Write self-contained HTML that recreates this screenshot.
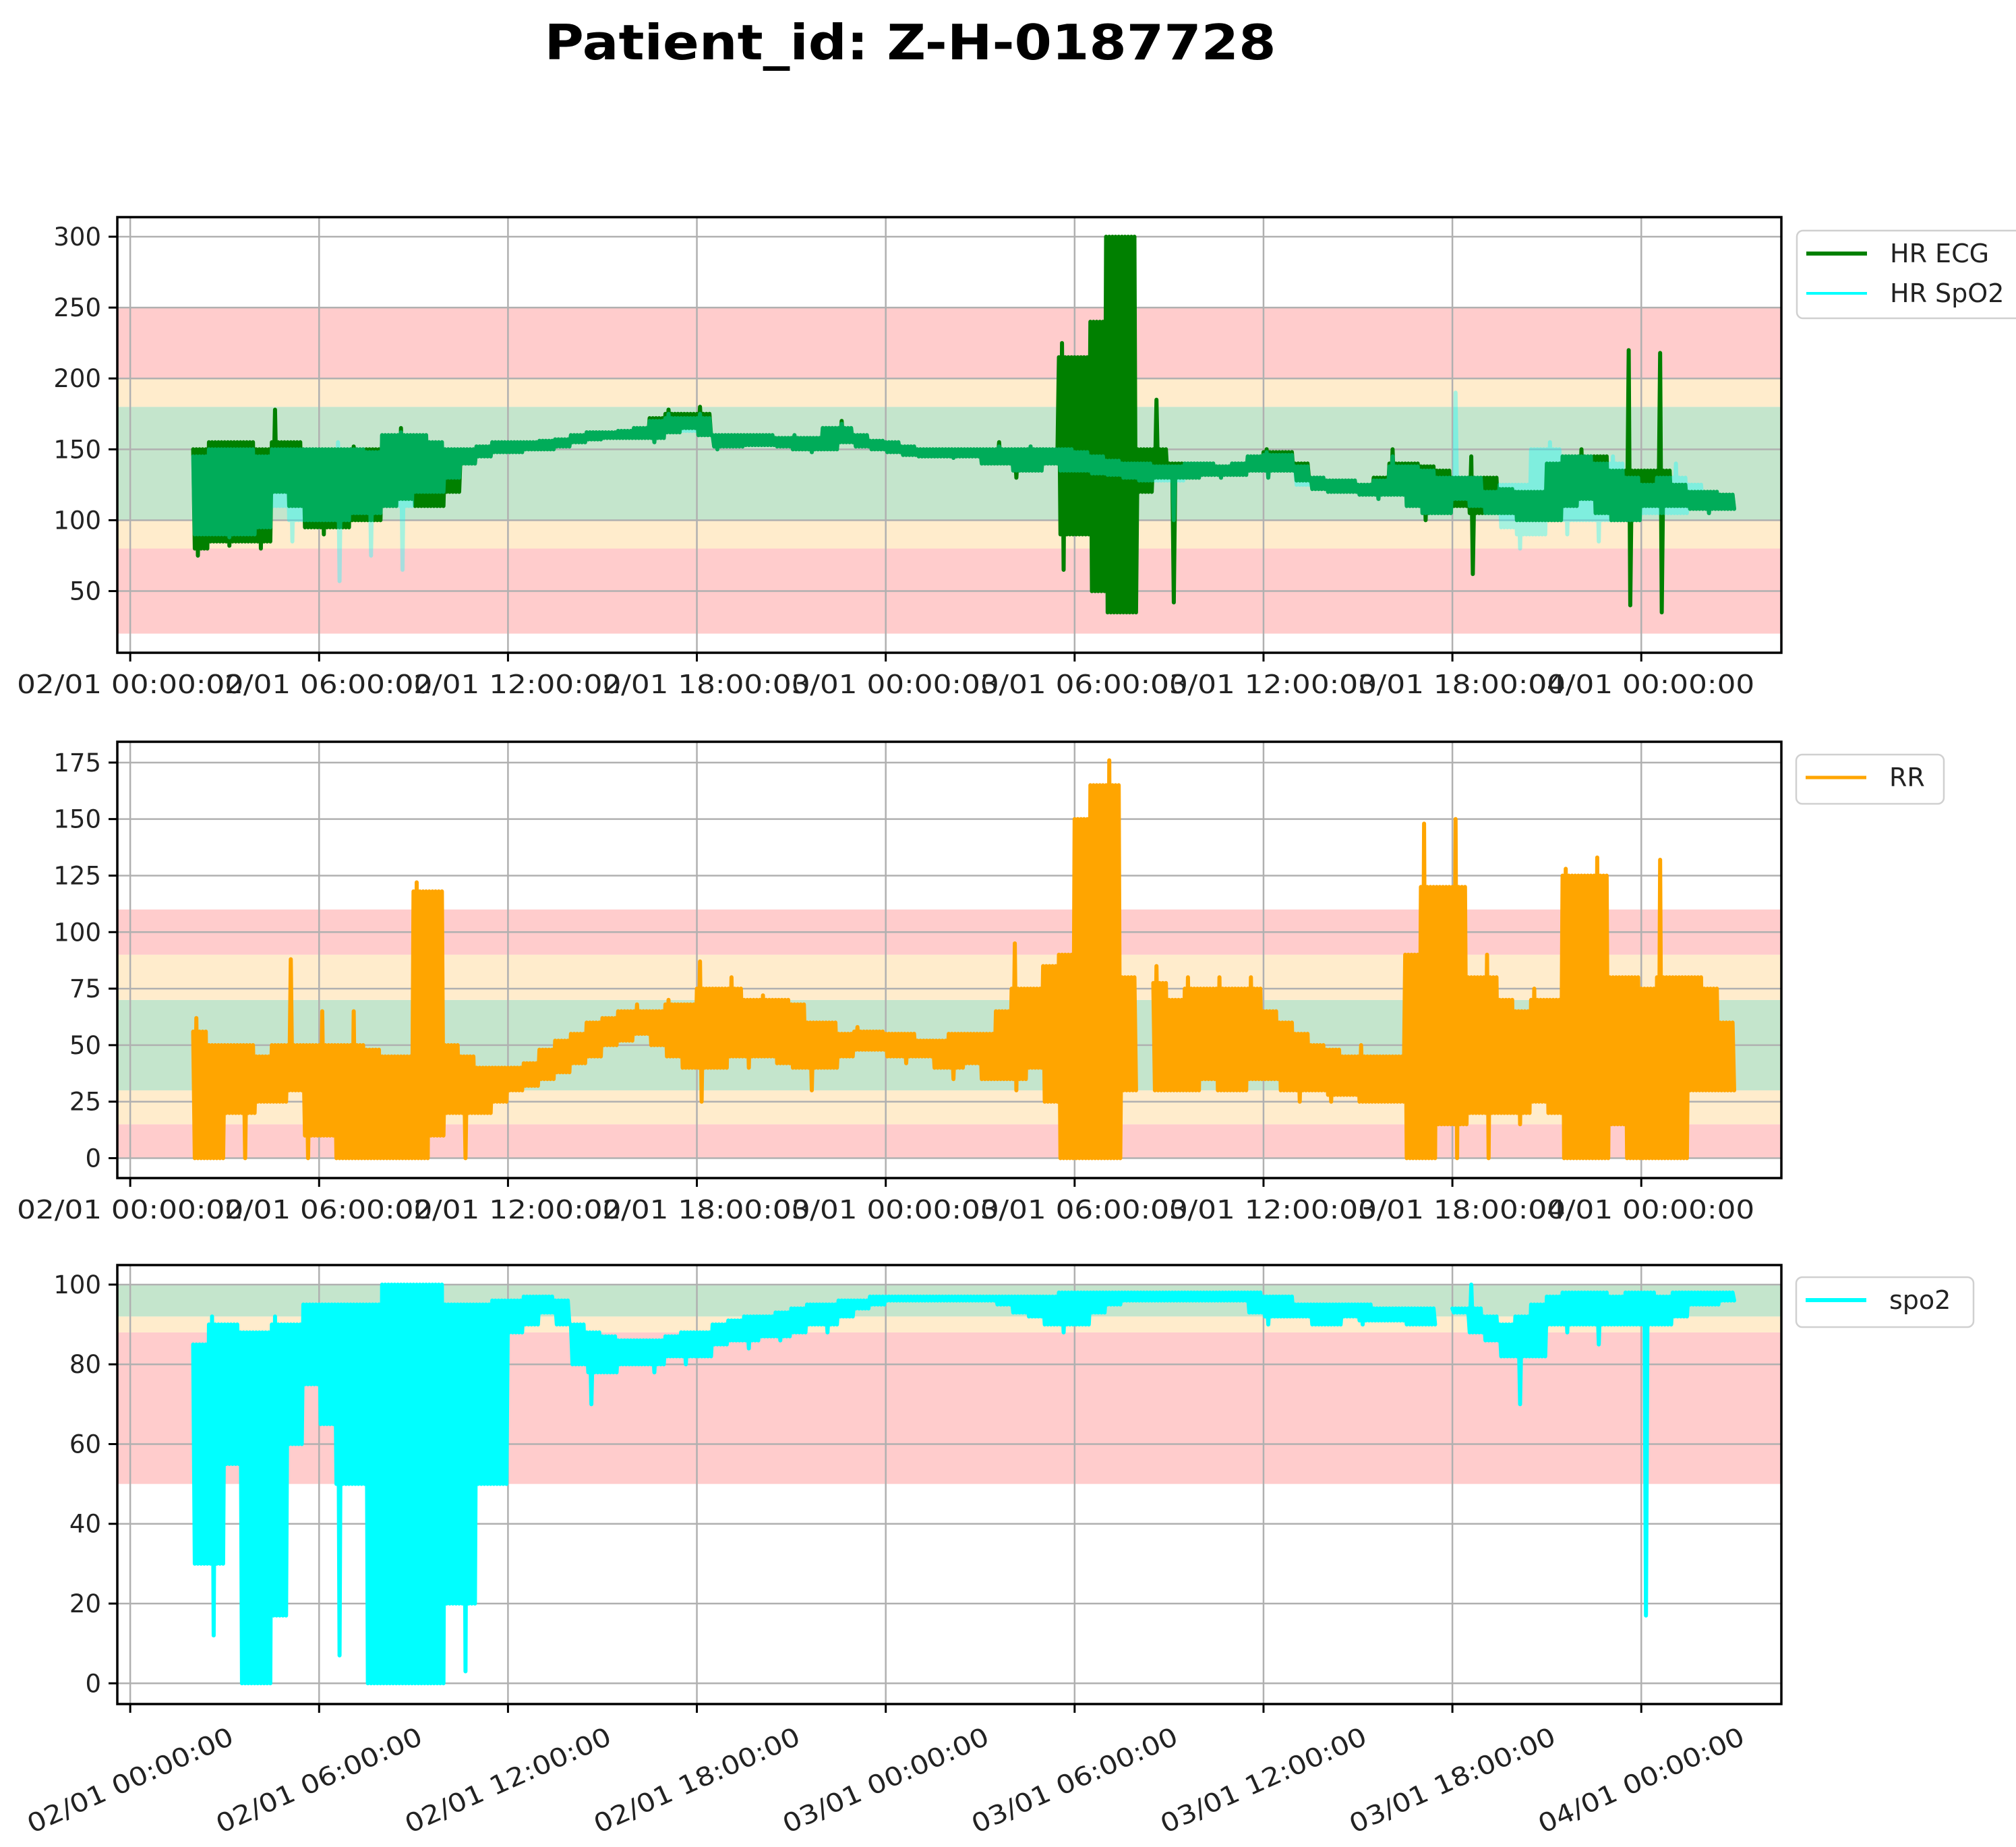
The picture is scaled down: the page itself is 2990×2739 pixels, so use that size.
<!DOCTYPE html>
<html><head><meta charset="utf-8">
<style>
html,body{margin:0;padding:0;background:#fff;}
svg{display:block;font-family:"DejaVu Sans","Liberation Sans",sans-serif;}
</style></head>
<body>
<svg id="fig" width="2990" height="2739" viewBox="0 0 2990 2739" xmlns="http://www.w3.org/2000/svg">
<text x="1350" y="88" text-anchor="middle" font-weight="bold" font-size="72" textLength="1085" lengthAdjust="spacingAndGlyphs">Patient_id: Z-H-0187728</text>
</svg>
<script>
// ---- data (hours since 02/01 00:00) ----
const binHours = [2,2.5,3,3.5,4,4.5,5,5.5,6,6.5,7,7.5,8,8.5,9,9.5,10,10.5,11,11.5,12,12.5,13,13.5,14,14.5,15,15.5,16,16.5,17,17.5,18,18.5,19,19.5,20,20.5,21,21.5,22,22.5,23,23.5,24,24.5,25,25.5,26,26.5,27,27.5,28,28.5,29,29.5,30,30.5,31,31.5,32,32.5,33,33.5,34,34.5,35,35.5,36,36.5,37,37.5,38,38.5,39,39.5,40,40.5,41,41.5,42,42.5,43,43.5,44,44.5,45,45.5,46,46.5,47,47.5,48,48.5,49,49.5,50,50.5];
const xTickHours = [0,6,12,18,24,30,36,42,48];
const xTickLabels = ["02/01 00:00:00","02/01 06:00:00","02/01 12:00:00","02/01 18:00:00","03/01 00:00:00","03/01 06:00:00","03/01 12:00:00","03/01 18:00:00","04/01 00:00:00"];

const hrEcgHigh = [150,155,155,155,150,178,155,150,150,150, 152,150,160,165,160,155,150,150,152,155, 155,155,156,157,160,162,162,163,165,172, 178,175,180,160,160,160,160,158,160,158, 165,170,160,156,155,152,150,150,150,150, 150,155,150,152,150,225,215,240,300,300, 150,185,140,140,140,138,140,145,150,148, 140,130,128,128,125,130,150,140,138,135, 130,145,130,122,120,120,140,145,150,145, 135,220,135,218,125,120,120,118];
const hrEcgLow = [75,85,82,85,80,120,110,95,90,95, 100,100,110,115,110,110,120,140,145,148, 148,150,150,152,155,157,158,158,158,155, 162,165,160,150,152,153,153,152,150,148, 150,155,152,150,148,146,145,145,144,145, 140,140,130,135,140,65,90,50,35,35, 120,130,42,130,132,130,132,135,130,135, 128,122,120,120,118,115,118,110,100,105, 110,62,105,105,100,100,100,110,115,105, 100,40,110,35,110,108,105,108];
const hrSpo2High = [145,150,150,150,145,150,150,150,150,155, 150,148,160,162,160,155,150,150,152,155, 155,155,156,157,160,162,162,163,165,170, 175,172,175,160,160,160,160,158,160,158, 165,168,160,156,155,152,150,150,150,150, 150,152,150,152,150,150,148,145,142,140, 140,138,138,140,140,138,140,145,148,146, 138,130,128,128,125,128,145,138,135,130, 190,130,120,125,125,150,155,145,145,140, 145,130,125,130,140,125,120,118];
const hrSpo2Low = [90,90,88,90,95,110,85,100,100,57, 105,75,110,65,120,120,130,140,145,148, 148,150,150,152,155,157,158,158,158,155, 162,163,160,150,152,153,153,152,150,148, 150,155,152,150,148,146,145,145,144,145, 140,140,135,135,140,135,135,133,132,130, 128,128,100,130,132,130,132,135,130,135, 125,122,120,120,118,115,118,110,105,105, 115,110,105,95,80,90,100,90,100,85, 100,100,105,105,105,108,105,108];
const rrHigh = [62,50,50,50,45,50,88,50,65,50, 65,48,45,45,122,118,50,45,40,40, 40,42,48,52,55,60,62,65,68,65, 70,68,87,75,80,70,72,70,68,60, 60,55,58,56,55,55,52,52,55,55, 55,65,95,75,85,90,150,165,176,80, null,85,70,80,75,80,75,80,65,60, 55,50,48,45,50,45,45,90,148,120, 150,80,90,70,65,75,70,128,125,133, 80,80,75,132,80,80,75,60];
const rrLow = [0,0,20,0,25,25,30,0,10,0, 0,0,0,0,0,10,20,0,20,25, 30,32,35,38,42,45,50,52,55,50, 45,40,25,40,45,40,45,42,40,30, 40,45,48,48,45,42,45,40,35,42, 35,35,30,40,25,0,0,0,0,30, null,30,30,30,35,30,30,35,35,30, 25,30,25,28,25,25,25,0,0,15, 0,20,0,20,15,25,20,0,0,0, 15,0,0,0,0,30,30,30];
const spo2High = [85,92,90,88,88,92,90,95,95,95, 95,95,100,100,100,100,95,95,95,96, 96,97,97,96,90,88,87,86,86,86, 87,88,88,90,91,92,92,93,94,95, 95,96,96,97,97,97,97,97,97,97, 97,97,97,97,97,98,98,98,98,98, 98,98,98,98,98,98,98,98,97,97, 95,95,95,95,95,94,94,94,94,null, 94,100,92,90,92,95,97,98,98,98, 97,98,98,97,98,98,98,98];
const spo2Low = [30,12,55,0,0,17,60,75,65,7, 50,0,0,0,0,0,20,3,50,50, 88,90,93,90,80,70,78,80,80,78, 82,80,82,85,86,84,87,86,88,90, 88,92,94,95,96,96,96,96,96,96, 96,95,93,92,90,88,90,93,95,96, 96,96,96,96,96,96,96,93,90,92, 92,90,90,92,90,91,91,90,90,null, 93,88,86,82,70,82,90,88,90,85, 90,90,17,90,92,95,95,96];

const hrTicks = [50,100,150,200,250,300];
const rrTicks = [0,25,50,75,100,125,150,175];
const spo2Ticks = [0,20,40,60,80,100];
const hrBands = [[20,80,"#ffcccc"],[80,100,"#ffeccc"],[100,180,"#c4e5cc"],[180,200,"#ffeccc"],[200,250,"#ffcccc"]];
const rrBands = [[0,15,"#ffcccc"],[15,30,"#ffeccc"],[30,70,"#c4e5cc"],[70,90,"#ffeccc"],[90,110,"#ffcccc"]];
const spo2Bands = [[50,88,"#ffcccc"],[88,92,"#ffeccc"],[92,100,"#c4e5cc"]];

// ---- layout ----
const NS = "http://www.w3.org/2000/svg";
const svg = document.getElementById('fig');
const L = 174, R = 2642;
const xAxisMin = -0.41, xAxisMax = 52.45;
function xs(h){ return L + (h - xAxisMin) / (xAxisMax - xAxisMin) * (R - L); }

function mk(tag, attrs, parent){
  const e = document.createElementNS(NS, tag);
  for (const k in attrs) e.setAttribute(k, attrs[k]);
  (parent || svg).appendChild(e);
  return e;
}
function med3(arr, i){
  const v = [arr[i - 1], arr[i], arr[i + 1]].filter(x => x !== null && x !== undefined);
  v.sort((a, b) => a - b);
  return v.length === 3 ? v[1] : (v.length === 2 ? (v[0] + v[1]) / 2 : v[0]);
}

function panel(name, top, bottom, ymin, ymax, ticks, bands, series, legend, rotated){
  const g = mk('g', {});
  
  
  const ys = v => bottom - (v - ymin) / (ymax - ymin) * (bottom - top);
  const clipId = 'clip-' + name;
  const cp = mk('clipPath', {id: clipId}, g);
  mk('rect', {x: L, y: top, width: R - L, height: bottom - top}, cp);
  bands.forEach(b => {
    const r = mk('rect', {x: L, y: ys(b[1]), width: R - L, height: ys(b[0]) - ys(b[1]), fill: b[2]}, g);
    
    
  });
  xTickHours.forEach(h => {
    const l = mk('line', {x1: xs(h), x2: xs(h), y1: top, y2: bottom, stroke: '#b0b0b0', 'stroke-width': 2.5}, g);
    
    
  });
  ticks.forEach(v => {
    const l = mk('line', {x1: L, x2: R, y1: ys(v), y2: ys(v), stroke: '#b0b0b0', 'stroke-width': 2.5}, g);
    
    
  });
  const sg = mk('g', {'clip-path': 'url(#' + clipId + ')'}, g);
  const nSub = 10;
  series.forEach(s => {
    let d = '', pen = false;
    for (let i = 0; i < binHours.length; i++) {
      const hi = s.hi[i], lo = s.lo[i];
      if (hi === null || lo === null) { pen = false; continue; }
      const cHi = Math.min(hi, Math.max(lo, med3(s.hi, i)));
      const cLo = Math.max(lo, Math.min(cHi, med3(s.lo, i)));
      for (let k = 0; k < nSub; k++) {
        let v;
        if (k === 2) v = hi;
        else if (k === 3) v = lo;
        else v = (k % 2 === 0) ? cHi : cLo;
        d += (pen ? 'L' : 'M') + xs(binHours[i] + 0.5 * k / nSub).toFixed(1) + ' ' + ys(v).toFixed(1);
        pen = true;
      }
    }
    const p = mk('path', {d: d, fill: 'none', stroke: s.color, 'stroke-width': 6, 'stroke-linejoin': 'round', 'stroke-linecap': 'round', opacity: s.op}, sg);
    
    
  });
  const fr = mk('rect', {x: L, y: top, width: R - L, height: bottom - top, fill: 'none', stroke: '#000', 'stroke-width': 3.5}, g);
  
  
  ticks.forEach(v => {
    mk('line', {x1: L - 13, x2: L, y1: ys(v), y2: ys(v), stroke: '#000', 'stroke-width': 3}, g);
    const t = mk('text', {x: L - 24, y: ys(v) + 13, 'text-anchor': 'end', 'font-size': 37, fill: '#222'}, g);
    t.textContent = v;
    
    
  });
  xTickHours.forEach((h, i) => {
    mk('line', {x1: xs(h), x2: xs(h), y1: bottom, y2: bottom + 13, stroke: '#000', 'stroke-width': 3}, g);
    let t;
    if (rotated) {
      const cx = xs(h), cy = bottom + 113;
      t = mk('text', {x: cx, y: cy + 13, 'text-anchor': 'middle', 'font-size': 38, fill: '#222', textLength: 330, lengthAdjust: 'spacingAndGlyphs', transform: 'rotate(-24 ' + cx + ' ' + cy + ')'}, g);
    } else {
      t = mk('text', {x: xs(h), y: bottom + 60, 'text-anchor': 'middle', 'font-size': 38, fill: '#222', textLength: 336, lengthAdjust: 'spacingAndGlyphs'}, g);
    }
    t.textContent = xTickLabels[i];
    
    
  });
  const lg = mk('g', {}, g);
  
  
  mk('rect', {x: legend.x, y: legend.y, width: legend.w, height: legend.h, rx: 9, fill: '#fff', stroke: '#d0d0d0', 'stroke-width': 2.5}, lg);
  legend.items.forEach((it, k) => {
    const yy = legend.y + 34 + k * 59;
    mk('line', {x1: legend.x + 14, x2: legend.x + 104, y1: yy, y2: yy, stroke: it.color, 'stroke-width': it.w}, lg);
    const t = mk('text', {x: legend.x + 138, y: yy + 13, 'font-size': 38, fill: '#222'}, lg);
    t.textContent = it.label;
    
    
  });
}

panel('hr', 322, 968, 6.5, 313.8, hrTicks, hrBands,
  [{name: 'hr-ecg', hi: hrEcgHigh, lo: hrEcgLow, color: '#008000', op: 1},
   {name: 'hr-spo2', hi: hrSpo2High, lo: hrSpo2Low, color: '#00ffff', op: 0.35}],
  {x: 2665, y: 342, w: 360, h: 130, items: [{label: 'HR ECG', color: '#008000', w: 6}, {label: 'HR SpO2', color: '#00ffff', w: 4}]}, false);

panel('rr', 1100, 1747, -8.8, 184.2, rrTicks, rrBands,
  [{name: 'rr', hi: rrHigh, lo: rrLow, color: '#ffa500', op: 1}],
  {x: 2664, y: 1119, w: 219, h: 73, items: [{label: 'RR', color: '#ffa500', w: 5}]}, false);

panel('spo2', 1876, 2527, -5.2, 104.9, spo2Ticks, spo2Bands,
  [{name: 'spo2', hi: spo2High, lo: spo2Low, color: '#00ffff', op: 1}],
  {x: 2664, y: 1894, w: 263, h: 74, items: [{label: 'spo2', color: '#00ffff', w: 6}]}, true);
</script>
</body></html>
